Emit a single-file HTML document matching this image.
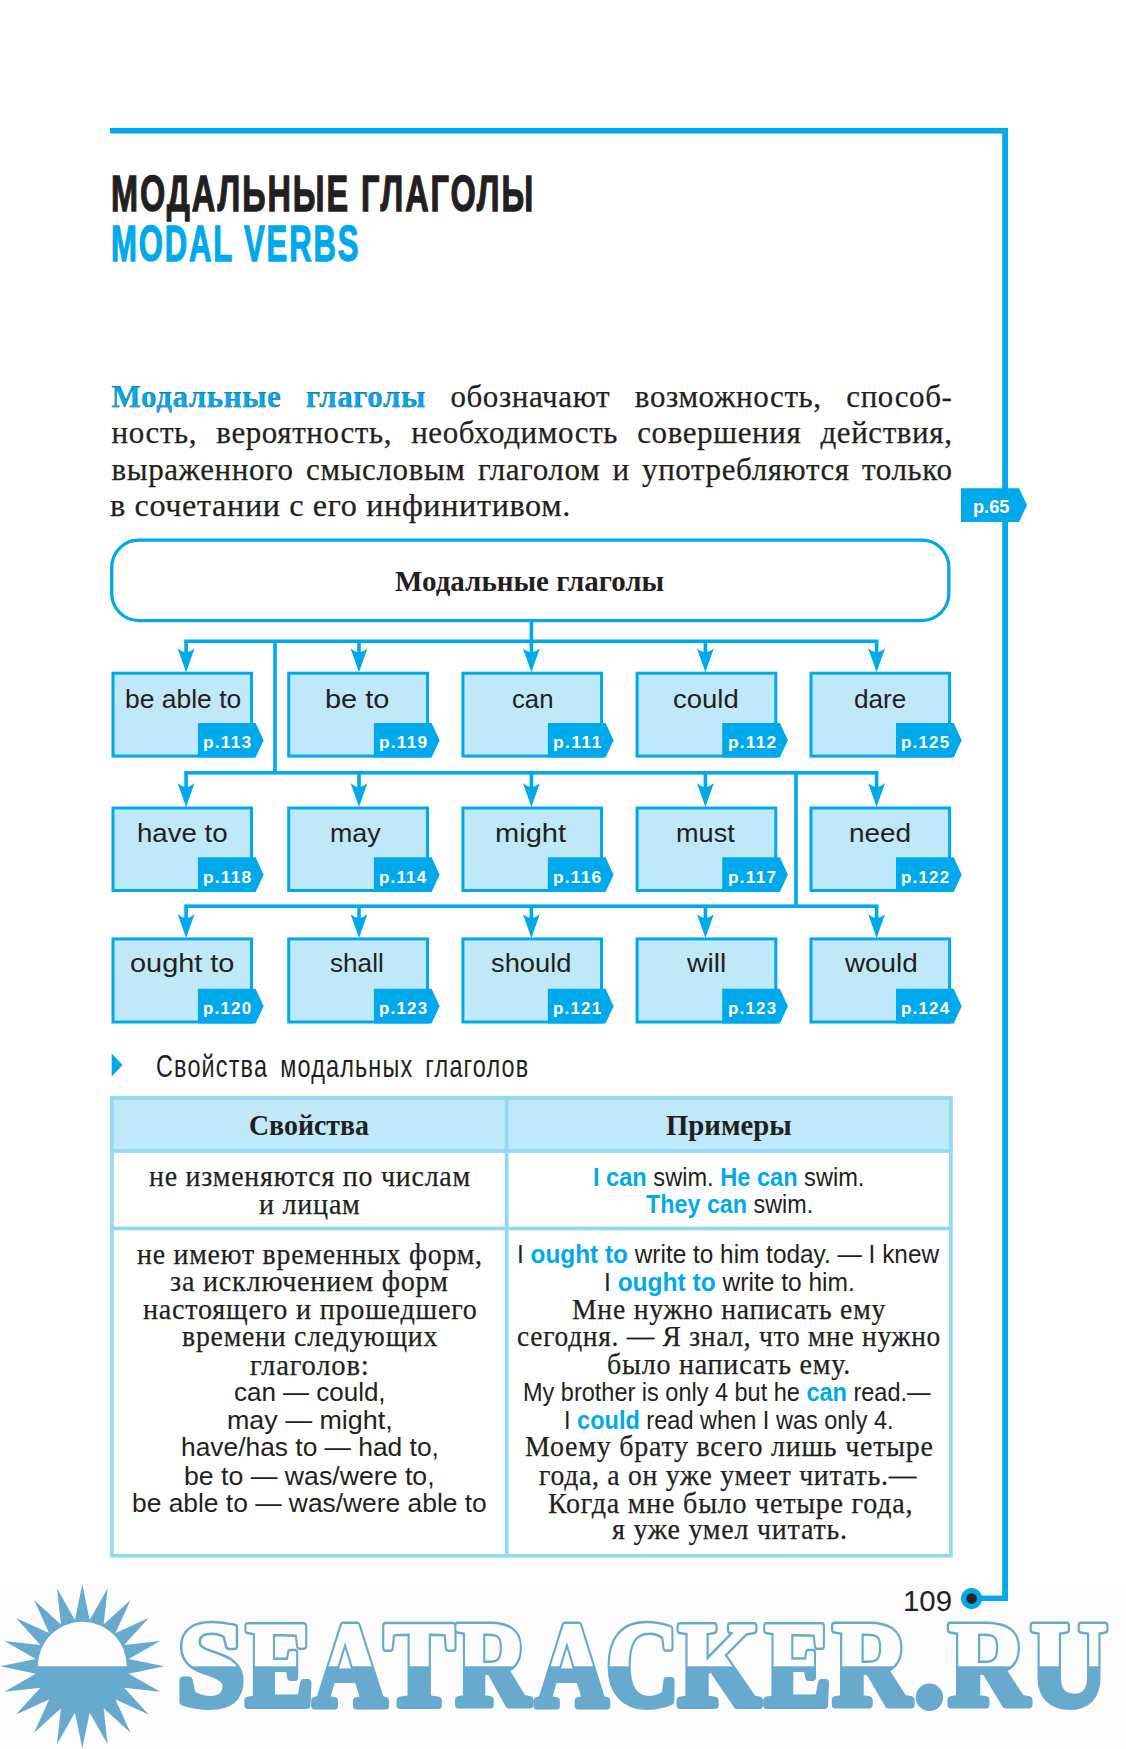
<!DOCTYPE html>
<html><head><meta charset="utf-8">
<style>
html,body{margin:0;padding:0;background:#fff;}
body{width:1126px;height:1749px;position:relative;overflow:hidden;}
svg{position:absolute;left:0;top:0;}
.t{position:absolute;white-space:nowrap;line-height:1;}
b{font-weight:bold;}
.t.sf{-webkit-text-stroke:0.25px #231f20;}
</style></head><body>
<svg width="1126" height="1749" viewBox="0 0 1126 1749">
<rect x="0" y="1583" width="1126" height="166" fill="#fcfcfc"/>
<rect x="110" y="128" width="898" height="5.5" fill="#00a9eb"/>
<rect x="1002.2" y="128" width="5.8" height="1473" fill="#00a9eb"/>
<rect x="975" y="1595.6" width="33" height="5.4" fill="#00a9eb"/>
<circle cx="971.6" cy="1598.6" r="10.6" fill="#00a9eb"/>
<circle cx="971.6" cy="1598.6" r="5.3" fill="#2a2223"/>
<polygon points="961,488.2 1019,488.2 1027,505.1 1019,522 961,522" fill="#00a9eb"/>
<rect x="111.75" y="540.15" width="837.1" height="80.4" rx="27" ry="27" fill="#fff" stroke="#00a9eb" stroke-width="3.3"/>
<rect x="529.6" y="620" width="3.6" height="21.299999999999955" fill="#00a9eb"/>
<rect x="184.29999999999998" y="639.5" width="694.1" height="3.6" fill="#00a9eb"/>
<rect x="184.29999999999998" y="641.3" width="3.6" height="22.40000000000009" fill="#00a9eb"/>
<path d="M177.7,648.5 Q182.1,652.1 186.1,652.5 Q190.1,652.1 194.5,648.5 L186.1,672.2 Z" fill="#00a9eb"/>
<rect x="357.2" y="641.3" width="3.6" height="22.40000000000009" fill="#00a9eb"/>
<path d="M350.6,648.5 Q355,652.1 359,652.5 Q363,652.1 367.4,648.5 L359,672.2 Z" fill="#00a9eb"/>
<rect x="529.6" y="641.3" width="3.6" height="22.40000000000009" fill="#00a9eb"/>
<path d="M523.0,648.5 Q527.4,652.1 531.4,652.5 Q535.4,652.1 539.8,648.5 L531.4,672.2 Z" fill="#00a9eb"/>
<rect x="703.6" y="641.3" width="3.6" height="22.40000000000009" fill="#00a9eb"/>
<path d="M697.0,648.5 Q701.4,652.1 705.4,652.5 Q709.4,652.1 713.8,648.5 L705.4,672.2 Z" fill="#00a9eb"/>
<rect x="874.8000000000001" y="641.3" width="3.6" height="22.40000000000009" fill="#00a9eb"/>
<path d="M868.2,648.5 Q872.6,652.1 876.6,652.5 Q880.6,652.1 885.0,648.5 L876.6,672.2 Z" fill="#00a9eb"/>
<rect x="184.29999999999998" y="771.0" width="694.1" height="3.6" fill="#00a9eb"/>
<rect x="184.29999999999998" y="772.8" width="3.6" height="25.700000000000045" fill="#00a9eb"/>
<path d="M177.7,783.3 Q182.1,786.9 186.1,787.3 Q190.1,786.9 194.5,783.3 L186.1,807.0 Z" fill="#00a9eb"/>
<rect x="357.2" y="772.8" width="3.6" height="25.700000000000045" fill="#00a9eb"/>
<path d="M350.6,783.3 Q355,786.9 359,787.3 Q363,786.9 367.4,783.3 L359,807.0 Z" fill="#00a9eb"/>
<rect x="529.6" y="772.8" width="3.6" height="25.700000000000045" fill="#00a9eb"/>
<path d="M523.0,783.3 Q527.4,786.9 531.4,787.3 Q535.4,786.9 539.8,783.3 L531.4,807.0 Z" fill="#00a9eb"/>
<rect x="703.6" y="772.8" width="3.6" height="25.700000000000045" fill="#00a9eb"/>
<path d="M697.0,783.3 Q701.4,786.9 705.4,787.3 Q709.4,786.9 713.8,783.3 L705.4,807.0 Z" fill="#00a9eb"/>
<rect x="874.8000000000001" y="772.8" width="3.6" height="25.700000000000045" fill="#00a9eb"/>
<path d="M868.2,783.3 Q872.6,786.9 876.6,787.3 Q880.6,786.9 885.0,783.3 L876.6,807.0 Z" fill="#00a9eb"/>
<rect x="184.29999999999998" y="904.4000000000001" width="694.1" height="3.6" fill="#00a9eb"/>
<rect x="184.29999999999998" y="906.2" width="3.6" height="23.199999999999932" fill="#00a9eb"/>
<path d="M177.7,914.1999999999999 Q182.1,917.8 186.1,918.1999999999999 Q190.1,917.8 194.5,914.1999999999999 L186.1,937.9 Z" fill="#00a9eb"/>
<rect x="357.2" y="906.2" width="3.6" height="23.199999999999932" fill="#00a9eb"/>
<path d="M350.6,914.1999999999999 Q355,917.8 359,918.1999999999999 Q363,917.8 367.4,914.1999999999999 L359,937.9 Z" fill="#00a9eb"/>
<rect x="529.6" y="906.2" width="3.6" height="23.199999999999932" fill="#00a9eb"/>
<path d="M523.0,914.1999999999999 Q527.4,917.8 531.4,918.1999999999999 Q535.4,917.8 539.8,914.1999999999999 L531.4,937.9 Z" fill="#00a9eb"/>
<rect x="703.6" y="906.2" width="3.6" height="23.199999999999932" fill="#00a9eb"/>
<path d="M697.0,914.1999999999999 Q701.4,917.8 705.4,918.1999999999999 Q709.4,917.8 713.8,914.1999999999999 L705.4,937.9 Z" fill="#00a9eb"/>
<rect x="874.8000000000001" y="906.2" width="3.6" height="23.199999999999932" fill="#00a9eb"/>
<path d="M868.2,914.1999999999999 Q872.6,917.8 876.6,918.1999999999999 Q880.6,917.8 885.0,914.1999999999999 L876.6,937.9 Z" fill="#00a9eb"/>
<rect x="273.2" y="641.3" width="3.6" height="131.5" fill="#00a9eb"/>
<rect x="794.2" y="772.8" width="3.6" height="133.4000000000001" fill="#00a9eb"/>
<rect x="113.0" y="673.2" width="138.5" height="82.89999999999998" fill="#bfe8f9" stroke="#00a9eb" stroke-width="3.0"/>
<polygon points="197.9,722.9 255.6,722.9 263.6,740.25 255.6,757.6 197.9,757.6" fill="#00a9eb"/>
<rect x="288.7" y="673.2" width="138.8" height="82.89999999999998" fill="#bfe8f9" stroke="#00a9eb" stroke-width="3.0"/>
<polygon points="373.9,722.9 431.6,722.9 439.6,740.25 431.6,757.6 373.9,757.6" fill="#00a9eb"/>
<rect x="462.9" y="673.2" width="138.60000000000002" height="82.89999999999998" fill="#bfe8f9" stroke="#00a9eb" stroke-width="3.0"/>
<polygon points="547.9,722.9 605.6,722.9 613.6,740.25 605.6,757.6 547.9,757.6" fill="#00a9eb"/>
<rect x="637.1" y="673.2" width="138.69999999999993" height="82.89999999999998" fill="#bfe8f9" stroke="#00a9eb" stroke-width="3.0"/>
<polygon points="722.1999999999999,722.9 779.9,722.9 787.9,740.25 779.9,757.6 722.1999999999999,757.6" fill="#00a9eb"/>
<rect x="811.0" y="673.2" width="138.60000000000002" height="82.89999999999998" fill="#bfe8f9" stroke="#00a9eb" stroke-width="3.0"/>
<polygon points="896.0,722.9 953.7,722.9 961.7,740.25 953.7,757.6 896.0,757.6" fill="#00a9eb"/>
<rect x="113.0" y="808.0" width="138.5" height="82.5" fill="#bfe8f9" stroke="#00a9eb" stroke-width="3.0"/>
<polygon points="197.9,857.3 255.6,857.3 263.6,874.65 255.6,892 197.9,892" fill="#00a9eb"/>
<rect x="288.7" y="808.0" width="138.8" height="82.5" fill="#bfe8f9" stroke="#00a9eb" stroke-width="3.0"/>
<polygon points="373.9,857.3 431.6,857.3 439.6,874.65 431.6,892 373.9,892" fill="#00a9eb"/>
<rect x="462.9" y="808.0" width="138.60000000000002" height="82.5" fill="#bfe8f9" stroke="#00a9eb" stroke-width="3.0"/>
<polygon points="547.9,857.3 605.6,857.3 613.6,874.65 605.6,892 547.9,892" fill="#00a9eb"/>
<rect x="637.1" y="808.0" width="138.69999999999993" height="82.5" fill="#bfe8f9" stroke="#00a9eb" stroke-width="3.0"/>
<polygon points="722.1999999999999,857.3 779.9,857.3 787.9,874.65 779.9,892 722.1999999999999,892" fill="#00a9eb"/>
<rect x="811.0" y="808.0" width="138.60000000000002" height="82.5" fill="#bfe8f9" stroke="#00a9eb" stroke-width="3.0"/>
<polygon points="896.0,857.3 953.7,857.3 961.7,874.65 953.7,892 896.0,892" fill="#00a9eb"/>
<rect x="113.0" y="938.9" width="138.5" height="83.10000000000002" fill="#bfe8f9" stroke="#00a9eb" stroke-width="3.0"/>
<polygon points="197.9,988.8 255.6,988.8 263.6,1006.15 255.6,1023.5 197.9,1023.5" fill="#00a9eb"/>
<rect x="288.7" y="938.9" width="138.8" height="83.10000000000002" fill="#bfe8f9" stroke="#00a9eb" stroke-width="3.0"/>
<polygon points="373.9,988.8 431.6,988.8 439.6,1006.15 431.6,1023.5 373.9,1023.5" fill="#00a9eb"/>
<rect x="462.9" y="938.9" width="138.60000000000002" height="83.10000000000002" fill="#bfe8f9" stroke="#00a9eb" stroke-width="3.0"/>
<polygon points="547.9,988.8 605.6,988.8 613.6,1006.15 605.6,1023.5 547.9,1023.5" fill="#00a9eb"/>
<rect x="637.1" y="938.9" width="138.69999999999993" height="83.10000000000002" fill="#bfe8f9" stroke="#00a9eb" stroke-width="3.0"/>
<polygon points="722.1999999999999,988.8 779.9,988.8 787.9,1006.15 779.9,1023.5 722.1999999999999,1023.5" fill="#00a9eb"/>
<rect x="811.0" y="938.9" width="138.60000000000002" height="83.10000000000002" fill="#bfe8f9" stroke="#00a9eb" stroke-width="3.0"/>
<polygon points="896.0,988.8 953.7,988.8 961.7,1006.15 953.7,1023.5 896.0,1023.5" fill="#00a9eb"/>
<polygon points="111.7,1053.5 122.6,1065 111.7,1076.6" fill="#00a9eb"/>
<rect x="110.1" y="1096.2" width="842.6" height="56.59999999999991" fill="#bfe8f9"/>
<rect x="111.94999999999999" y="1098.05" width="838.9" height="457.6999999999999" fill="none" stroke="#90daf5" stroke-width="3.7"/>
<rect x="110.1" y="1149.1" width="842.6" height="3.7" fill="#90daf5"/>
<rect x="110.1" y="1226.6" width="842.6" height="3.7" fill="#90daf5"/>
<rect x="504.8" y="1096.2" width="3.7" height="461.39999999999986" fill="#90daf5"/>
<polygon points="82.30,1584.30 89.65,1619.88 107.64,1588.31 103.64,1624.42 130.50,1599.96 115.53,1633.07 148.64,1618.10 124.18,1644.96 160.29,1640.96 128.72,1658.95 164.30,1666.30 128.72,1673.65 160.29,1691.64 124.18,1687.64 148.64,1714.50 115.53,1699.53 130.50,1732.64 103.64,1708.18 107.64,1744.29 89.65,1712.72 82.30,1748.30 74.95,1712.72 56.96,1744.29 60.96,1708.18 34.10,1732.64 49.07,1699.53 15.96,1714.50 40.42,1687.64 4.31,1691.64 35.88,1673.65 0.30,1666.30 35.88,1658.95 4.31,1640.96 40.42,1644.96 15.96,1618.10 49.07,1633.07 34.10,1599.96 60.96,1624.42 56.96,1588.31 74.95,1619.88" fill="#68aacd"/>
<path d="M37.8,1666.3 A44.5,44.5 0 0 1 126.8,1666.3 Z" fill="#fcfcfc"/>
<defs><clipPath id="topc"><rect x="0" y="0" width="1126" height="1666.3"/></clipPath></defs>
<text x="0" y="0" transform="translate(176.89,1705) scale(1.0063,1)" font-family="Liberation Serif" font-weight="bold" font-size="121" fill="#68aacd" stroke="#68aacd" stroke-width="8" stroke-linejoin="round">S</text><text x="0" y="0" transform="translate(246.06,1705) scale(0.8325,1)" font-family="Liberation Serif" font-weight="bold" font-size="121" fill="#68aacd" stroke="#68aacd" stroke-width="8" stroke-linejoin="round">E</text><text x="0" y="0" transform="translate(313.51,1705) scale(0.8355,1)" font-family="Liberation Serif" font-weight="bold" font-size="121" fill="#68aacd" stroke="#68aacd" stroke-width="8" stroke-linejoin="round">A</text><text x="0" y="0" transform="translate(383.95,1705) scale(0.8753,1)" font-family="Liberation Serif" font-weight="bold" font-size="121" fill="#68aacd" stroke="#68aacd" stroke-width="8" stroke-linejoin="round">T</text><text x="0" y="0" transform="translate(456.08,1705) scale(0.8383,1)" font-family="Liberation Serif" font-weight="bold" font-size="121" fill="#68aacd" stroke="#68aacd" stroke-width="8" stroke-linejoin="round">R</text><text x="0" y="0" transform="translate(535.67,1705) scale(0.8237,1)" font-family="Liberation Serif" font-weight="bold" font-size="121" fill="#68aacd" stroke="#68aacd" stroke-width="8" stroke-linejoin="round">A</text><text x="0" y="0" transform="translate(605.93,1705) scale(0.8350,1)" font-family="Liberation Serif" font-weight="bold" font-size="121" fill="#68aacd" stroke="#68aacd" stroke-width="8" stroke-linejoin="round">C</text><text x="0" y="0" transform="translate(678.35,1705) scale(0.8727,1)" font-family="Liberation Serif" font-weight="bold" font-size="121" fill="#68aacd" stroke="#68aacd" stroke-width="8" stroke-linejoin="round">K</text><text x="0" y="0" transform="translate(764.84,1705) scale(0.8187,1)" font-family="Liberation Serif" font-weight="bold" font-size="121" fill="#68aacd" stroke="#68aacd" stroke-width="8" stroke-linejoin="round">E</text><text x="0" y="0" transform="translate(832.77,1705) scale(0.8862,1)" font-family="Liberation Serif" font-weight="bold" font-size="121" fill="#68aacd" stroke="#68aacd" stroke-width="8" stroke-linejoin="round">R</text><text x="0" y="0" transform="translate(914.41,1705) scale(0.9893,1)" font-family="Liberation Serif" font-weight="bold" font-size="121" fill="#68aacd" stroke="#68aacd" stroke-width="8" stroke-linejoin="round">.</text><text x="0" y="0" transform="translate(948.42,1705) scale(0.9085,1)" font-family="Liberation Serif" font-weight="bold" font-size="121" fill="#68aacd" stroke="#68aacd" stroke-width="8" stroke-linejoin="round">R</text><text x="0" y="0" transform="translate(1030.58,1705) scale(0.8820,1)" font-family="Liberation Serif" font-weight="bold" font-size="121" fill="#68aacd" stroke="#68aacd" stroke-width="8" stroke-linejoin="round">U</text>
<g clip-path="url(#topc)"><text x="0" y="0" transform="translate(176.89,1705) scale(1.0063,1)" font-family="Liberation Serif" font-weight="bold" font-size="121" fill="#fcfcfc" stroke="#fcfcfc" stroke-width="3" stroke-linejoin="round">S</text><text x="0" y="0" transform="translate(246.06,1705) scale(0.8325,1)" font-family="Liberation Serif" font-weight="bold" font-size="121" fill="#fcfcfc" stroke="#fcfcfc" stroke-width="3" stroke-linejoin="round">E</text><text x="0" y="0" transform="translate(313.51,1705) scale(0.8355,1)" font-family="Liberation Serif" font-weight="bold" font-size="121" fill="#fcfcfc" stroke="#fcfcfc" stroke-width="3" stroke-linejoin="round">A</text><text x="0" y="0" transform="translate(383.95,1705) scale(0.8753,1)" font-family="Liberation Serif" font-weight="bold" font-size="121" fill="#fcfcfc" stroke="#fcfcfc" stroke-width="3" stroke-linejoin="round">T</text><text x="0" y="0" transform="translate(456.08,1705) scale(0.8383,1)" font-family="Liberation Serif" font-weight="bold" font-size="121" fill="#fcfcfc" stroke="#fcfcfc" stroke-width="3" stroke-linejoin="round">R</text><text x="0" y="0" transform="translate(535.67,1705) scale(0.8237,1)" font-family="Liberation Serif" font-weight="bold" font-size="121" fill="#fcfcfc" stroke="#fcfcfc" stroke-width="3" stroke-linejoin="round">A</text><text x="0" y="0" transform="translate(605.93,1705) scale(0.8350,1)" font-family="Liberation Serif" font-weight="bold" font-size="121" fill="#fcfcfc" stroke="#fcfcfc" stroke-width="3" stroke-linejoin="round">C</text><text x="0" y="0" transform="translate(678.35,1705) scale(0.8727,1)" font-family="Liberation Serif" font-weight="bold" font-size="121" fill="#fcfcfc" stroke="#fcfcfc" stroke-width="3" stroke-linejoin="round">K</text><text x="0" y="0" transform="translate(764.84,1705) scale(0.8187,1)" font-family="Liberation Serif" font-weight="bold" font-size="121" fill="#fcfcfc" stroke="#fcfcfc" stroke-width="3" stroke-linejoin="round">E</text><text x="0" y="0" transform="translate(832.77,1705) scale(0.8862,1)" font-family="Liberation Serif" font-weight="bold" font-size="121" fill="#fcfcfc" stroke="#fcfcfc" stroke-width="3" stroke-linejoin="round">R</text><text x="0" y="0" transform="translate(914.41,1705) scale(0.9893,1)" font-family="Liberation Serif" font-weight="bold" font-size="121" fill="#fcfcfc" stroke="#fcfcfc" stroke-width="3" stroke-linejoin="round">.</text><text x="0" y="0" transform="translate(948.42,1705) scale(0.9085,1)" font-family="Liberation Serif" font-weight="bold" font-size="121" fill="#fcfcfc" stroke="#fcfcfc" stroke-width="3" stroke-linejoin="round">R</text><text x="0" y="0" transform="translate(1030.58,1705) scale(0.8820,1)" font-family="Liberation Serif" font-weight="bold" font-size="121" fill="#fcfcfc" stroke="#fcfcfc" stroke-width="3" stroke-linejoin="round">U</text></g>
</svg>
<div class="t" id="t0" style="top:168.68px;font-size:50px;font-family:'Liberation Sans', sans-serif;font-weight:bold;color:#231f20;letter-spacing:3px;-webkit-text-stroke:1.3px #231f20;left:110.75px;transform:scaleX(0.6484);transform-origin:0 0;">МОДАЛЬНЫЕ ГЛАГОЛЫ</div>
<div class="t" id="t1" style="top:218.68px;font-size:50px;font-family:'Liberation Sans', sans-serif;font-weight:bold;color:#00a9eb;letter-spacing:3px;-webkit-text-stroke:1.3px #00a9eb;left:110.84px;transform:scaleX(0.6208);transform-origin:0 0;">MODAL VERBS</div>
<div class="t sf" id="t2" style="top:380.64px;font-size:31px;font-family:'Liberation Serif', serif;font-weight:normal;color:#231f20;letter-spacing:0.6px;left:111.50px;width:841px;text-align:justify;text-align-last:justify;"><span style="color:#00a9eb;font-weight:bold">Модальные глаголы</span> обозначают возможность, способ-</div>
<div class="t sf" id="t3" style="top:416.64px;font-size:31px;font-family:'Liberation Serif', serif;font-weight:normal;color:#231f20;letter-spacing:0.6px;left:111.50px;width:841px;text-align:justify;text-align-last:justify;">ность, вероятность, необходимость совершения действия,</div>
<div class="t sf" id="t4" style="top:453.54px;font-size:31px;font-family:'Liberation Serif', serif;font-weight:normal;color:#231f20;letter-spacing:0.6px;left:111.50px;width:841px;text-align:justify;text-align-last:justify;">выраженного смысловым глаголом и употребляются только</div>
<div class="t sf" id="t5" style="top:489.54px;font-size:31px;font-family:'Liberation Serif', serif;font-weight:normal;color:#231f20;letter-spacing:0.6px;left:110.46px;transform:scaleX(1.0386);transform-origin:0 0;">в сочетании с его инфинитивом.</div>
<div class="t" id="t6" style="top:497.76px;font-size:18px;font-family:'Liberation Sans', sans-serif;font-weight:bold;color:#fff;left:972.69px;transform:scaleX(1.0086);transform-origin:0 0;">p.65</div>
<div class="t" id="t7" style="top:567.11px;font-size:29px;font-family:'Liberation Serif', serif;font-weight:bold;color:#231f20;left:394.70px;transform:scaleX(1.0004);transform-origin:0 0;">Модальные глаголы</div>
<div class="t" id="t8" style="top:685.59px;font-size:26px;font-family:'Liberation Sans', sans-serif;font-weight:normal;color:#231f20;left:124.66px;transform:scaleX(1.0180);transform-origin:0 0;">be able to</div>
<div class="t" id="t9" style="top:734.21px;font-size:17px;font-family:'Liberation Sans', sans-serif;font-weight:bold;color:#fff;letter-spacing:1.2px;left:203.28px;transform:scaleX(1.0174);transform-origin:0 0;">p.113</div>
<div class="t" id="t10" style="top:685.59px;font-size:26px;font-family:'Liberation Sans', sans-serif;font-weight:normal;color:#231f20;left:325.47px;transform:scaleX(1.1127);transform-origin:0 0;">be to</div>
<div class="t" id="t11" style="top:734.21px;font-size:17px;font-family:'Liberation Sans', sans-serif;font-weight:bold;color:#fff;letter-spacing:1.2px;left:379.28px;transform:scaleX(1.0174);transform-origin:0 0;">p.119</div>
<div class="t" id="t12" style="top:685.59px;font-size:26px;font-family:'Liberation Sans', sans-serif;font-weight:normal;color:#231f20;left:511.71px;transform:scaleX(0.9897);transform-origin:0 0;">can</div>
<div class="t" id="t13" style="top:734.21px;font-size:17px;font-family:'Liberation Sans', sans-serif;font-weight:bold;color:#fff;letter-spacing:1.2px;left:553.26px;transform:scaleX(1.0400);transform-origin:0 0;">p.111</div>
<div class="t" id="t14" style="top:685.59px;font-size:26px;font-family:'Liberation Sans', sans-serif;font-weight:normal;color:#231f20;left:673.24px;transform:scaleX(1.0567);transform-origin:0 0;">could</div>
<div class="t" id="t15" style="top:734.21px;font-size:17px;font-family:'Liberation Sans', sans-serif;font-weight:bold;color:#fff;letter-spacing:1.2px;left:727.58px;transform:scaleX(1.0174);transform-origin:0 0;">p.112</div>
<div class="t" id="t16" style="top:685.59px;font-size:26px;font-family:'Liberation Sans', sans-serif;font-weight:normal;color:#231f20;left:854.29px;transform:scaleX(1.0060);transform-origin:0 0;">dare</div>
<div class="t" id="t17" style="top:734.21px;font-size:17px;font-family:'Liberation Sans', sans-serif;font-weight:bold;color:#fff;letter-spacing:1.2px;left:901.40px;transform:scaleX(0.9957);transform-origin:0 0;">p.125</div>
<div class="t" id="t18" style="top:819.99px;font-size:26px;font-family:'Liberation Sans', sans-serif;font-weight:normal;color:#231f20;left:137.28px;transform:scaleX(1.0622);transform-origin:0 0;">have to</div>
<div class="t" id="t19" style="top:868.61px;font-size:17px;font-family:'Liberation Sans', sans-serif;font-weight:bold;color:#fff;letter-spacing:1.2px;left:203.28px;transform:scaleX(1.0174);transform-origin:0 0;">p.118</div>
<div class="t" id="t20" style="top:819.99px;font-size:26px;font-family:'Liberation Sans', sans-serif;font-weight:normal;color:#231f20;left:330.34px;transform:scaleX(1.0319);transform-origin:0 0;">may</div>
<div class="t" id="t21" style="top:868.61px;font-size:17px;font-family:'Liberation Sans', sans-serif;font-weight:bold;color:#fff;letter-spacing:1.2px;left:379.30px;transform:scaleX(0.9957);transform-origin:0 0;">p.114</div>
<div class="t" id="t22" style="top:819.99px;font-size:26px;font-family:'Liberation Sans', sans-serif;font-weight:normal;color:#231f20;left:494.96px;transform:scaleX(1.1180);transform-origin:0 0;">might</div>
<div class="t" id="t23" style="top:868.61px;font-size:17px;font-family:'Liberation Sans', sans-serif;font-weight:bold;color:#fff;letter-spacing:1.2px;left:553.28px;transform:scaleX(1.0174);transform-origin:0 0;">p.116</div>
<div class="t" id="t24" style="top:819.99px;font-size:26px;font-family:'Liberation Sans', sans-serif;font-weight:normal;color:#231f20;left:675.51px;transform:scaleX(1.0444);transform-origin:0 0;">must</div>
<div class="t" id="t25" style="top:868.61px;font-size:17px;font-family:'Liberation Sans', sans-serif;font-weight:bold;color:#fff;letter-spacing:1.2px;left:727.58px;transform:scaleX(1.0174);transform-origin:0 0;">p.117</div>
<div class="t" id="t26" style="top:819.99px;font-size:26px;font-family:'Liberation Sans', sans-serif;font-weight:normal;color:#231f20;left:849.05px;transform:scaleX(1.0741);transform-origin:0 0;">need</div>
<div class="t" id="t27" style="top:868.61px;font-size:17px;font-family:'Liberation Sans', sans-serif;font-weight:bold;color:#fff;letter-spacing:1.2px;left:901.40px;transform:scaleX(0.9957);transform-origin:0 0;">p.122</div>
<div class="t" id="t28" style="top:949.99px;font-size:26px;font-family:'Liberation Sans', sans-serif;font-weight:normal;color:#231f20;left:130.29px;transform:scaleX(1.1109);transform-origin:0 0;">ought to</div>
<div class="t" id="t29" style="top:1000.11px;font-size:17px;font-family:'Liberation Sans', sans-serif;font-weight:bold;color:#fff;letter-spacing:1.2px;left:203.30px;transform:scaleX(0.9957);transform-origin:0 0;">p.120</div>
<div class="t" id="t30" style="top:949.99px;font-size:26px;font-family:'Liberation Sans', sans-serif;font-weight:normal;color:#231f20;left:330.49px;transform:scaleX(1.0059);transform-origin:0 0;">shall</div>
<div class="t" id="t31" style="top:1000.11px;font-size:17px;font-family:'Liberation Sans', sans-serif;font-weight:bold;color:#fff;letter-spacing:1.2px;left:379.30px;transform:scaleX(0.9957);transform-origin:0 0;">p.123</div>
<div class="t" id="t32" style="top:949.99px;font-size:26px;font-family:'Liberation Sans', sans-serif;font-weight:normal;color:#231f20;left:491.35px;transform:scaleX(1.0500);transform-origin:0 0;">should</div>
<div class="t" id="t33" style="top:1000.11px;font-size:17px;font-family:'Liberation Sans', sans-serif;font-weight:bold;color:#fff;letter-spacing:1.2px;left:553.30px;transform:scaleX(0.9957);transform-origin:0 0;">p.121</div>
<div class="t" id="t34" style="top:949.99px;font-size:26px;font-family:'Liberation Sans', sans-serif;font-weight:normal;color:#231f20;left:686.60px;transform:scaleX(1.0857);transform-origin:0 0;">will</div>
<div class="t" id="t35" style="top:1000.11px;font-size:17px;font-family:'Liberation Sans', sans-serif;font-weight:bold;color:#fff;letter-spacing:1.2px;left:727.60px;transform:scaleX(0.9957);transform-origin:0 0;">p.123</div>
<div class="t" id="t36" style="top:949.99px;font-size:26px;font-family:'Liberation Sans', sans-serif;font-weight:normal;color:#231f20;left:845.10px;transform:scaleX(1.0712);transform-origin:0 0;">would</div>
<div class="t" id="t37" style="top:1000.11px;font-size:17px;font-family:'Liberation Sans', sans-serif;font-weight:bold;color:#fff;letter-spacing:1.2px;left:901.40px;transform:scaleX(0.9957);transform-origin:0 0;">p.124</div>
<div class="t" id="t38" style="top:1049.91px;font-size:32px;font-family:'Liberation Sans', sans-serif;font-weight:normal;color:#231f20;letter-spacing:1.6px;word-spacing:6px;left:156.34px;transform:scaleX(0.7314);transform-origin:0 0;">Свойства модальных глаголов</div>
<div class="t" id="t39" style="top:1111.83px;font-size:28.5px;font-family:'Liberation Serif', serif;font-weight:bold;color:#231f20;left:249.42px;transform:scaleX(0.9770);transform-origin:0 0;">Свойства</div>
<div class="t" id="t40" style="top:1111.83px;font-size:28.5px;font-family:'Liberation Serif', serif;font-weight:bold;color:#231f20;left:666.20px;transform:scaleX(1.0089);transform-origin:0 0;">Примеры</div>
<div class="t sf" id="t41" style="top:1161.85px;font-size:29.2px;font-family:'Liberation Serif', serif;font-weight:normal;color:#231f20;letter-spacing:0.8px;left:148.74px;transform:scaleX(0.9569);transform-origin:0 0;">не изменяются по числам</div>
<div class="t sf" id="t42" style="top:1189.55px;font-size:29.2px;font-family:'Liberation Serif', serif;font-weight:normal;color:#231f20;letter-spacing:0.8px;left:259.04px;transform:scaleX(0.9612);transform-origin:0 0;">и лицам</div>
<div class="t" id="t43" style="top:1164.71px;font-size:25.5px;font-family:'Liberation Sans', sans-serif;font-weight:normal;color:#231f20;left:592.95px;transform:scaleX(0.9253);transform-origin:0 0;"><b style="color:#00a9eb">I can</b> swim. <b style="color:#00a9eb">He can</b> swim.</div>
<div class="t" id="t44" style="top:1192.41px;font-size:25.5px;font-family:'Liberation Sans', sans-serif;font-weight:normal;color:#231f20;left:646.00px;transform:scaleX(0.9144);transform-origin:0 0;"><b style="color:#00a9eb">They can</b> swim.</div>
<div class="t sf" id="t45" style="top:1239.85px;font-size:29.2px;font-family:'Liberation Serif', serif;font-weight:normal;color:#231f20;letter-spacing:0.8px;left:137.45px;transform:scaleX(0.9540);transform-origin:0 0;">не имеют временных форм,</div>
<div class="t sf" id="t46" style="top:1267.35px;font-size:29.2px;font-family:'Liberation Serif', serif;font-weight:normal;color:#231f20;letter-spacing:0.8px;left:170.33px;transform:scaleX(0.9650);transform-origin:0 0;">за исключением форм</div>
<div class="t sf" id="t47" style="top:1294.95px;font-size:29.2px;font-family:'Liberation Serif', serif;font-weight:normal;color:#231f20;letter-spacing:0.8px;left:142.74px;transform:scaleX(0.9640);transform-origin:0 0;">настоящего и прошедшего</div>
<div class="t sf" id="t48" style="top:1322.45px;font-size:29.2px;font-family:'Liberation Serif', serif;font-weight:normal;color:#231f20;letter-spacing:0.8px;left:181.85px;transform:scaleX(0.9524);transform-origin:0 0;">времени следующих</div>
<div class="t sf" id="t49" style="top:1350.85px;font-size:29.2px;font-family:'Liberation Serif', serif;font-weight:normal;color:#231f20;letter-spacing:0.8px;left:250.22px;transform:scaleX(0.9822);transform-origin:0 0;">глаголов:</div>
<div class="t" id="t50" style="top:1380.41px;font-size:25.5px;font-family:'Liberation Sans', sans-serif;font-weight:normal;color:#231f20;left:234.18px;transform:scaleX(1.0185);transform-origin:0 0;">can — could,</div>
<div class="t" id="t51" style="top:1407.91px;font-size:25.5px;font-family:'Liberation Sans', sans-serif;font-weight:normal;color:#231f20;left:227.29px;transform:scaleX(1.0529);transform-origin:0 0;">may — might,</div>
<div class="t" id="t52" style="top:1435.41px;font-size:25.5px;font-family:'Liberation Sans', sans-serif;font-weight:normal;color:#231f20;left:180.73px;transform:scaleX(1.0337);transform-origin:0 0;">have/has to — had to,</div>
<div class="t" id="t53" style="top:1463.81px;font-size:25.5px;font-family:'Liberation Sans', sans-serif;font-weight:normal;color:#231f20;left:184.31px;transform:scaleX(1.0462);transform-origin:0 0;">be to — was/were to,</div>
<div class="t" id="t54" style="top:1491.41px;font-size:25.5px;font-family:'Liberation Sans', sans-serif;font-weight:normal;color:#231f20;left:131.93px;transform:scaleX(1.0341);transform-origin:0 0;">be able to — was/were able to</div>
<div class="t" id="t55" style="top:1242.21px;font-size:25.5px;font-family:'Liberation Sans', sans-serif;font-weight:normal;color:#231f20;left:516.99px;transform:scaleX(0.9557);transform-origin:0 0;">I <b style="color:#00a9eb">ought to</b> write to him today. — I knew</div>
<div class="t" id="t56" style="top:1269.91px;font-size:25.5px;font-family:'Liberation Sans', sans-serif;font-weight:normal;color:#231f20;left:604.28px;transform:scaleX(0.9621);transform-origin:0 0;">I <b style="color:#00a9eb">ought to</b> write to him.</div>
<div class="t sf" id="t57" style="top:1294.75px;font-size:29.2px;font-family:'Liberation Serif', serif;font-weight:normal;color:#231f20;letter-spacing:0.8px;left:571.85px;transform:scaleX(0.9480);transform-origin:0 0;">Мне нужно написать ему</div>
<div class="t sf" id="t58" style="top:1322.45px;font-size:29.2px;font-family:'Liberation Serif', serif;font-weight:normal;color:#231f20;letter-spacing:0.8px;left:516.86px;transform:scaleX(0.9390);transform-origin:0 0;">сегодня. — Я знал, что мне нужно</div>
<div class="t sf" id="t59" style="top:1350.14px;font-size:29.2px;font-family:'Liberation Serif', serif;font-weight:normal;color:#231f20;letter-spacing:0.8px;left:607.44px;transform:scaleX(0.9606);transform-origin:0 0;">было написать ему.</div>
<div class="t" id="t60" style="top:1379.61px;font-size:25.5px;font-family:'Liberation Sans', sans-serif;font-weight:normal;color:#231f20;left:523.36px;transform:scaleX(0.9214);transform-origin:0 0;">My brother is only 4 but he <b style="color:#00a9eb">can</b> read.—</div>
<div class="t" id="t61" style="top:1408.41px;font-size:25.5px;font-family:'Liberation Sans', sans-serif;font-weight:normal;color:#231f20;left:563.85px;transform:scaleX(0.9229);transform-origin:0 0;">I <b style="color:#00a9eb">could</b> read when I was only 4.</div>
<div class="t sf" id="t62" style="top:1432.25px;font-size:29.2px;font-family:'Liberation Serif', serif;font-weight:normal;color:#231f20;letter-spacing:0.8px;left:525.34px;transform:scaleX(0.9583);transform-origin:0 0;">Моему брату всего лишь четыре</div>
<div class="t sf" id="t63" style="top:1460.95px;font-size:29.2px;font-family:'Liberation Serif', serif;font-weight:normal;color:#231f20;letter-spacing:0.8px;left:539.25px;transform:scaleX(0.9467);transform-origin:0 0;">года, а он уже умеет читать.—</div>
<div class="t sf" id="t64" style="top:1488.64px;font-size:29.2px;font-family:'Liberation Serif', serif;font-weight:normal;color:#231f20;letter-spacing:0.8px;left:547.74px;transform:scaleX(0.9610);transform-origin:0 0;">Когда мне было четыре года,</div>
<div class="t sf" id="t65" style="top:1515.35px;font-size:29.2px;font-family:'Liberation Serif', serif;font-weight:normal;color:#231f20;letter-spacing:0.8px;left:611.60px;transform:scaleX(0.9588);transform-origin:0 0;">я уже умел читать.</div>
<div class="t" id="t66" style="top:1587.31px;font-size:28.7px;font-family:'Liberation Sans', sans-serif;font-weight:normal;color:#231f20;left:902.85px;transform:scaleX(1.0244);transform-origin:0 0;">109</div>
</body></html>
